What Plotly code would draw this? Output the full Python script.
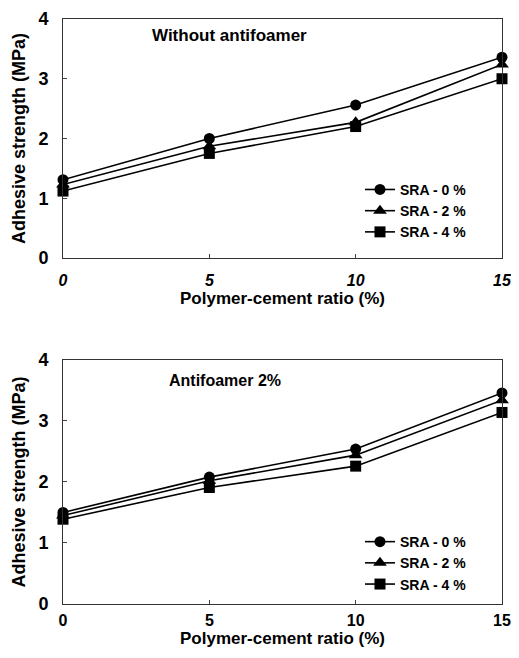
import plotly.graph_objects as go
from plotly.subplots import make_subplots

ratio = [0, 5, 10, 15]
series_names = ["SRA - 0 %", "SRA - 2 %", "SRA - 4 %"]
top_sra0 = [1.31, 2.0, 2.56, 3.36]
top_sra2 = [1.23, 1.87, 2.27, 3.24]
top_sra4 = [1.12, 1.75, 2.2, 3.0]
bot_sra0 = [1.5, 2.08, 2.54, 3.46]
bot_sra2 = [1.45, 2.02, 2.44, 3.34]
bot_sra4 = [1.39, 1.91, 2.26, 3.14]
panel_titles = ["Without antifoamer", "Antifoamer 2%"]
x_ticks = [0, 5, 10, 15]
y_ticks = [0, 1, 2, 3, 4]

symbols = ["circle", "triangle-up", "square"]
FONT = "Liberation Sans, Arial, sans-serif"

fig = make_subplots(rows=2, cols=1, vertical_spacing=0.17)
for row, data, leg in [(1, [top_sra0, top_sra2, top_sra4], "legend"),
                       (2, [bot_sra0, bot_sra2, bot_sra4], "legend2")]:
    for name, vals, sym in zip(series_names, data, symbols):
        fig.add_trace(go.Scatter(
            x=ratio, y=vals, name=name, mode="lines+markers",
            line=dict(color="black", width=1.6),
            marker=dict(symbol=sym, size=11 if sym != "triangle-up" else 12, color="black"),
            cliponaxis=False, legend=leg), row=row, col=1)

legfont = dict(size=14, family=FONT, weight="bold")
fig.update_layout(
    width=504, height=640,
    margin=dict(l=55, r=10, t=11, b=44),
    plot_bgcolor="white", paper_bgcolor="white",
    font=dict(family=FONT, color="black", size=14),
    yaxis=dict(domain=[0.5915, 1]),
    yaxis2=dict(domain=[0, 0.4171]),
    legend=dict(x=0.6765, y=0.672, xanchor="left", yanchor="middle",
                bgcolor="rgba(0,0,0,0)", font=legfont,
                tracegroupgap=0, itemwidth=30),
    legend2=dict(x=0.6765, y=0.070, xanchor="left", yanchor="middle",
                 bgcolor="rgba(0,0,0,0)", font=legfont,
                 tracegroupgap=0, itemwidth=30),
)
for r in (1, 2):
    fig.update_xaxes(range=[0, 15], tickvals=x_ticks, ticks="inside", ticklen=4,
                     showline=True, linecolor="#333", linewidth=1, mirror=True,
                     showgrid=False, zeroline=False, automargin=False,
                     ticklabeloverflow="allow",
                     ticklabelstandoff=8 if r == 1 else 2,
                     tickfont=dict(size=16, family=FONT, weight="bold",
                                   style="italic" if r == 1 else "normal"),
                     title=dict(text="Polymer-cement ratio (%)",
                                font=dict(size=17, family=FONT, weight="bold"),
                                standoff=2),
                     row=r, col=1)
    fig.update_yaxes(range=[0, 4], tickvals=y_ticks, ticks="inside", ticklen=4,
                     showline=True, linecolor="#333", linewidth=1, mirror=True,
                     showgrid=False, zeroline=False, automargin=False,
                     ticklabeloverflow="allow",
                     ticklabelstandoff=10,
                     tickfont=dict(size=18, family=FONT, weight="bold"),
                     title=dict(text="Adhesive strength (MPa)",
                                font=dict(size=18, family=FONT, weight="bold"), standoff=8),
                     row=r, col=1)

fig.add_annotation(x=2.97, y=3.73, xref="x", yref="y", text=panel_titles[0],
                   showarrow=False, xanchor="left", font=dict(size=17, family=FONT, weight="bold"))
fig.add_annotation(x=3.55, y=3.67, xref="x2", yref="y2", text=panel_titles[1],
                   showarrow=False, xanchor="left", font=dict(size=16, family=FONT, weight="bold"))

fig.write_html("out.html")
